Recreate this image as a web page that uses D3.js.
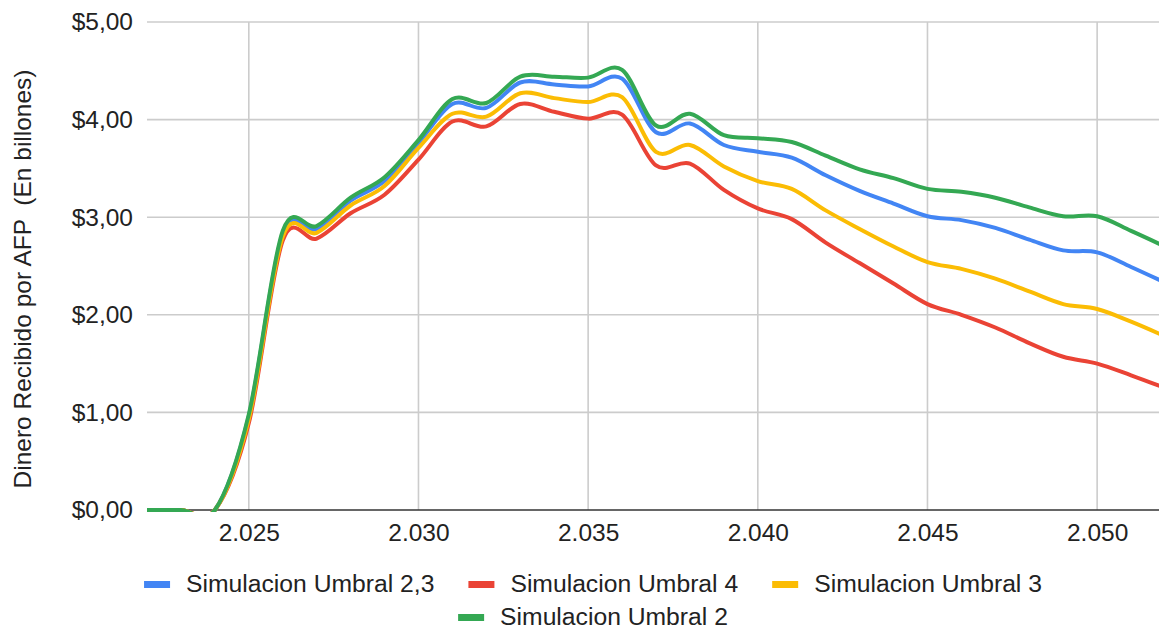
<!DOCTYPE html>
<html>
<head>
<meta charset="utf-8">
<script src="https://cdnjs.cloudflare.com/ajax/libs/d3/7.8.5/d3.min.js"></script>
<style>
  body { margin: 0; background: #fff; }
  svg text { font-family: "Liberation Sans", Arial, sans-serif; fill: #222; }
</style>
</head>
<body>
<div id="chart"></div>
<script>
// data (one value per year)
var years = d3.range(2022, 2053);

var umbral23 = [0, 0, 0, 0.96, 2.83, 2.88, 3.17, 3.37, 3.76, 4.16, 4.12, 4.38, 4.36, 4.34, 4.42, 3.87,
  3.96, 3.74, 3.67, 3.61, 3.43, 3.27, 3.14, 3.01, 2.97, 2.89, 2.77, 2.66, 2.64, 2.49, 2.33];
var umbral4 = [0, 0, 0, 0.89, 2.76, 2.78, 3.04, 3.23, 3.59, 3.98, 3.93, 4.16, 4.08, 4.01, 4.05, 3.53,
  3.55, 3.28, 3.09, 2.98, 2.74, 2.53, 2.32, 2.11, 2.00, 1.87, 1.71, 1.57, 1.50, 1.38, 1.25];
var umbral3 = [0, 0, 0, 0.93, 2.80, 2.84, 3.12, 3.32, 3.71, 4.06, 4.03, 4.27, 4.22, 4.18, 4.23, 3.67,
  3.74, 3.52, 3.37, 3.29, 3.07, 2.88, 2.70, 2.54, 2.47, 2.37, 2.24, 2.11, 2.06, 1.93, 1.78];
var umbral2 = [0, 0, 0, 0.98, 2.86, 2.91, 3.20, 3.41, 3.79, 4.21, 4.17, 4.44, 4.44, 4.43, 4.51, 3.94,
  4.06, 3.84, 3.81, 3.77, 3.63, 3.49, 3.40, 3.29, 3.26, 3.20, 3.10, 3.01, 3.01, 2.86, 2.70];

var seriesNames = ["Simulacion Umbral 2,3", "Simulacion Umbral 4", "Simulacion Umbral 3", "Simulacion Umbral 2"];
var seriesColors = ["#4285F4", "#EA4335", "#FBBC04", "#34A853"];

var xTicks = [2025, 2030, 2035, 2040, 2045, 2050];
var xTickLabels = ["2.025", "2.030", "2.035", "2.040", "2.045", "2.050"];
var yTicks = [0, 1, 2, 3, 4, 5];
var yTickLabels = ["$0,00", "$1,00", "$2,00", "$3,00", "$4,00", "$5,00"];

var yTitle = "Dinero Recibido por AFP  (En billones)";

var W = 1159, H = 629;
var plotLeft = 147, plotRight = 1165, plotTop = 22, plotBottom = 510;

var svg = d3.select("#chart").append("svg")
  .attr("width", W)
  .attr("height", H);

var x = d3.scaleLinear().domain([2022, 2052]).range([plotLeft, plotRight]);
var y = d3.scaleLinear().domain([0, 5]).range([plotBottom, plotTop]);

// grid
svg.append("g")
  .selectAll("line")
  .data(xTicks)
  .enter().append("line")
    .attr("x1", function(d) { return x(d); })
    .attr("x2", function(d) { return x(d); })
    .attr("y1", plotTop)
    .attr("y2", plotBottom)
    .style("stroke", "#cccccc")
    .style("stroke-width", 1.6);

svg.append("g")
  .selectAll("line")
  .data(yTicks.slice(1))
  .enter().append("line")
    .attr("x1", plotLeft)
    .attr("x2", plotRight)
    .attr("y1", function(d) { return y(d); })
    .attr("y2", function(d) { return y(d); })
    .style("stroke", "#cccccc")
    .style("stroke-width", 1.6);

// axes (labels only)
var yAxis = svg.append("g")
  .attr("transform", "translate(" + plotLeft + ",0)")
  .call(d3.axisLeft(y).tickValues(yTicks).tickSize(0).tickPadding(14)
    .tickFormat(function(d, i) { return yTickLabels[i]; }));
yAxis.select(".domain").remove();

var xAxis = svg.append("g")
  .attr("transform", "translate(0," + plotBottom + ")")
  .call(d3.axisBottom(x).tickValues(xTicks).tickSize(0).tickPadding(14)
    .tickFormat(function(d, i) { return xTickLabels[i]; }));
xAxis.select(".domain").remove();

svg.selectAll(".tick text")
  .style("font-size", "24.5px")
  .style("font-family", '"Liberation Sans", Arial, sans-serif')
  .attr("fill", "#222");

// baseline
svg.append("line")
  .attr("x1", plotLeft).attr("x2", plotRight)
  .attr("y1", y(0)).attr("y2", y(0))
  .style("stroke", "#333")
  .style("stroke-width", 1.6);

// y title
svg.append("text")
  .attr("transform", "translate(31," + ((plotTop + plotBottom) / 2 + 13) + ") rotate(-90)")
  .attr("text-anchor", "middle")
  .style("font-size", "24.5px")
  .style("white-space", "pre")
  .text(yTitle);

// lines
svg.append("clipPath").attr("id", "plotclip")
  .append("rect")
  .attr("x", plotLeft).attr("y", 0)
  .attr("width", plotRight - plotLeft).attr("height", plotBottom + 2);

var allSeries = [umbral23, umbral4, umbral3, umbral2];

var line = d3.line()
  .x(function(d, i) { return x(years[i]); })
  .y(function(d) { return y(d); })
  .curve(d3.curveCardinal.tension(0));

svg.append("g")
  .attr("clip-path", "url(#plotclip)")
  .selectAll("path")
  .data(allSeries)
  .enter().append("path")
    .attr("d", line)
    .style("fill", "none")
    .style("stroke", function(d, i) { return seriesColors[i]; })
    .style("stroke-width", 4)
    .style("stroke-linejoin", "round");

// legend: two rows, centred
var rows = [[0, 1, 2], [3]];
var rowY = [592, 625];
var center = 593;
var gap = 34;

rows.forEach(function(items, r) {
  var g = svg.append("g");
  var pos = 0;
  items.forEach(function(idx) {
    var item = g.append("g").attr("transform", "translate(" + pos + ",0)");
    item.append("rect")
      .attr("x", 0).attr("y", rowY[r] - 11)
      .attr("width", 26).attr("height", 7)
      .style("fill", seriesColors[idx]);
    var t = item.append("text")
      .attr("x", 42).attr("y", rowY[r])
      .style("font-size", "24.7px")
      .text(seriesNames[idx]);
    pos += 42 + t.node().getComputedTextLength() + gap;
  });
  var total = pos - gap;
  g.attr("transform", "translate(" + (center - total / 2) + ",0)");
});
</script>
</body>
</html>
